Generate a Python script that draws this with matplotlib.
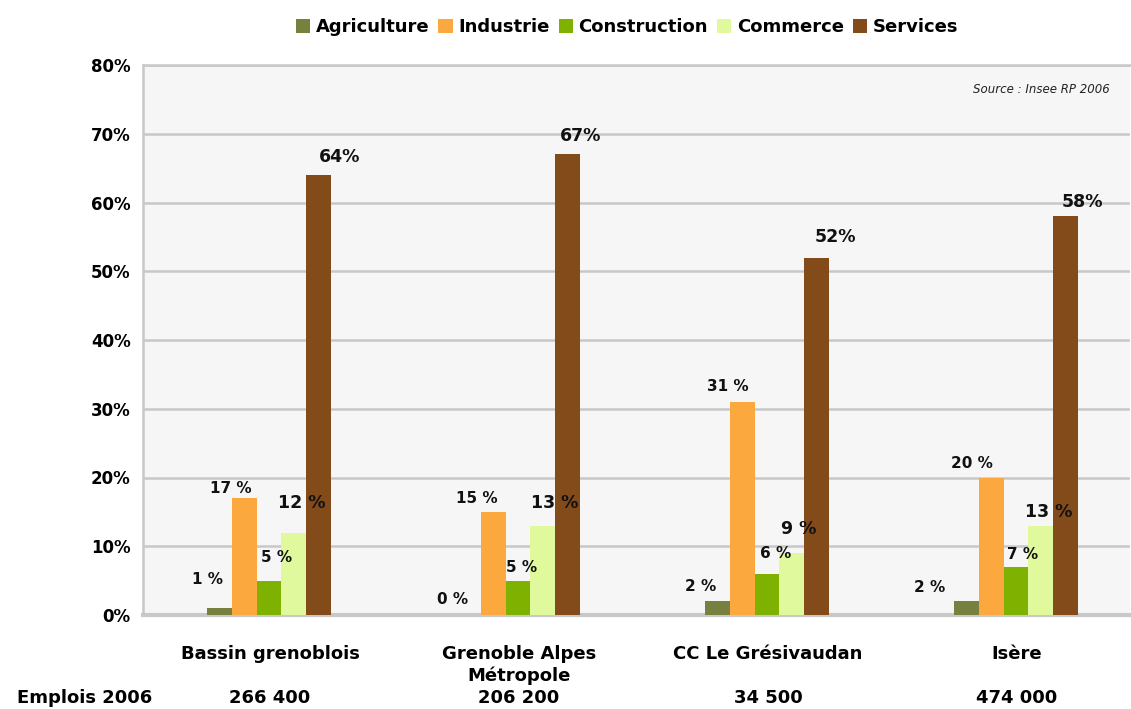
import numpy as np
from matplotlib import pyplot as plt

# data
zones = ['Bassin grenoblois', 'Grenoble Alpes\nMétropole', 'CC Le Grésivaudan', 'Isère']
emplois = ['266 400', '206 200', '34 500', '474 000']
secteurs = ['Agriculture', 'Industrie', 'Construction', 'Commerce', 'Services']
agriculture = [1, 0, 2, 2]
industrie = [17, 15, 31, 20]
construction = [5, 5, 6, 7]
commerce = [12, 13, 9, 13]
services = [64, 67, 52, 58]

colors = ['#77803f', '#fba83f', '#7fb200', '#e0f99c', '#834a1a']
series = [agriculture, industrie, construction, commerce, services]

# label offsets in pixels (dx, dy above bar top), per series and zone
dxs = [[-12, -16, -17, -37], [-13, -16, -14, -19], [8, 4, 9, 7], [8, 12, 7, 8], [21, 13, 19, 17]]
dys = [[29, 15, 15, 14], [10, 13, 15, 14], [23, 13, 20, 12], [30, 23, 24, 14], [18, 18, 20, 14]]

plt.rcParams['font.family'] = 'DejaVu Sans'
fig = plt.figure(figsize=(11.31, 7.09), dpi=100)
ax = fig.add_axes([143/1131, 1-615/709, (1130-143)/1131, 550/709])
ax.set_facecolor('#f6f6f6')

x = np.arange(len(zones))
w = 0.1
for i, (name, vals, c) in enumerate(zip(secteurs, series, colors)):
    pos = x + (i-2)*w
    ax.bar(pos, vals, w, color=c, label=name, zorder=3)
    for j, v in enumerate(vals):
        if i == 4:
            txt = '%d%%' % v
            fs = 12.5
        elif i == 3:
            txt = '%d %%' % v
            fs = 12.5
        else:
            txt = '%d %%' % v
            fs = 11
        ax.annotate(txt, (pos[j], v), xytext=(dxs[i][j], dys[i][j]), textcoords='offset pixels',
                    ha='center', va='center', fontsize=fs, fontweight='bold', color='#111111', zorder=4)

ax.set_xlim(-0.506, 3.458)
ax.set_ylim(0, 80)
ax.set_yticks(range(0, 81, 10))
ax.set_yticklabels(['%d%%' % t for t in range(0, 81, 10)], fontsize=12, fontweight='bold')
ax.yaxis.grid(True, color='#c8c8c8', linewidth=1.8, zorder=1)
ax.set_xticks([])
ax.tick_params(axis='y', length=0, pad=9)
ax.spines['right'].set_visible(False)
ax.spines['top'].set_color('#c8c8c8')
ax.spines['top'].set_linewidth(1.8)
ax.spines['left'].set_color('#c8c8c8')
ax.spines['left'].set_linewidth(1.8)
ax.spines['bottom'].set_color('#c8c8c8')
ax.spines['bottom'].set_linewidth(3)

for j, z in enumerate(zones):
    ax.annotate(z, (x[j], 0), xytext=(1, -30), textcoords='offset pixels', ha='center', va='top',
                fontsize=13, fontweight='bold', linespacing=1.25)
    ax.annotate(emplois[j], (x[j], 0), xytext=(1, -83), textcoords='offset pixels', ha='center', va='center',
                fontsize=13, fontweight='bold')
fig.text(85/1131, 1-698/709, 'Emplois 2006', ha='center', va='center', fontsize=13, fontweight='bold')

ax.text(0.9795, 0.955, 'Source : Insee RP 2006', transform=ax.transAxes, ha='right', va='center',
        fontsize=8.5, style='italic', color='#222222')

fig.legend(loc='center', bbox_to_anchor=(627/1131, 1-27/709), ncol=5, frameon=False,
           prop={'size': 13, 'weight': 'bold'}, handlelength=0.8, handleheight=0.8,
           handletextpad=0.3, columnspacing=0.5)

fig.savefig('out.png', dpi=100)
